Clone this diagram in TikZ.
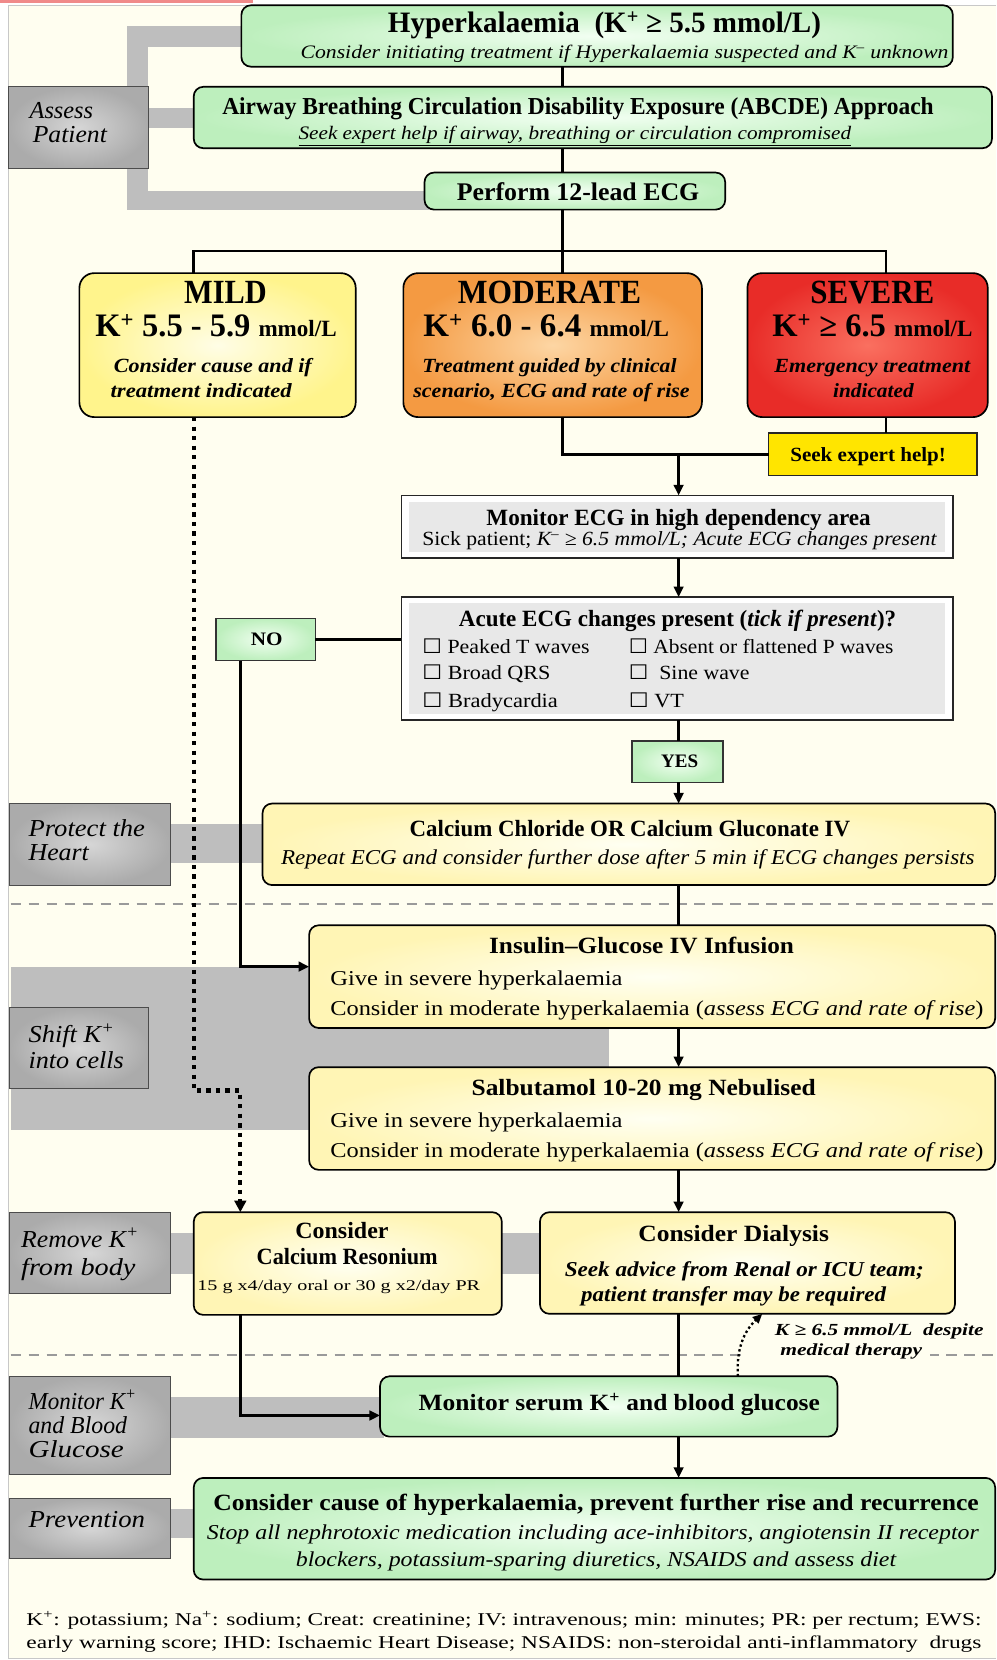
\documentclass[tikz,border=0pt]{standalone}
\usepackage{fontspec}
\setmainfont{Liberation Serif}
\newfontfamily\symf{DejaVu Sans}
\usepackage{graphicx}
\usetikzlibrary{arrows.meta}
\definecolor{bgc}{HTML}{FFFEF0}
\definecolor{grnin}{HTML}{F2FFF2}
\definecolor{grnout}{HTML}{BDEFBD}
\definecolor{yelin}{HTML}{FFFFF2}
\definecolor{yelout}{HTML}{FFF5B5}
\definecolor{mildin}{HTML}{FFFDE6}
\definecolor{mildout}{HTML}{FFF48C}
\definecolor{modin}{HTML}{FDD6A4}
\definecolor{modout}{HTML}{F49A42}
\definecolor{sevin}{HTML}{FA7060}
\definecolor{sevout}{HTML}{E82C28}
\definecolor{seekc}{HTML}{FFE500}
\definecolor{gin}{HTML}{D6D6D6}
\definecolor{gout}{HTML}{ABABAB}
\definecolor{bandc}{HTML}{BEBEBE}
\definecolor{innerg}{HTML}{E8E8E8}
\definecolor{dashc}{HTML}{9A9A9A}
\definecolor{redbar}{HTML}{F08A8A}
\definecolor{framec}{HTML}{C8C8C8}
\newcommand\fs[1]{\fontsize{#1}{#1}\selectfont}
\newcommand\fw[2]{\resizebox{#1pt}{\height}{#2}}
\newcommand\kp{K\textsuperscript{+}}
\newcommand\km{K\textsuperscript{–}}
\newcommand\cb{{\symf ☐}}
\newcommand\bx[6]{\node[#1, minimum width={(#5-#3)*1pt}, minimum height={(#6-#4)*1pt}] (#2) at ({(#3+#5)/2},{(#4+#6)/2}) {};}
\newcommand\tc[6]{\node[txt, font=#1, anchor=base] (#2) at (#3,#4) {\fw{#5}{#6}};}
\newcommand\tl[6]{\node[txt, font=#1, anchor=base west] (#2) at (#3,#4) {\fw{#5}{#6}};}
\begin{document}
\begin{tikzpicture}[x=1pt,y=-1pt,
  txt/.style={inner sep=0pt, outer sep=0pt, text=black},
  base/.style={inner sep=0pt, outer sep=0pt},
  rbox/.style={base, draw=black, line width=1.6pt, rounded corners=9pt},
  grnbox/.style={rbox, inner color=grnin, outer color=grnout},
  yelbox/.style={rbox, inner color=yelin, outer color=yelout},
  mildbox/.style={rbox, inner color=mildin, outer color=mildout, rounded corners=14pt},
  modbox/.style={rbox, inner color=modin, outer color=modout, rounded corners=14pt},
  sevbox/.style={rbox, inner color=sevin, outer color=sevout, rounded corners=14pt},
  seekbox/.style={base, draw=black!85, line width=1.4pt, fill=seekc},
  whbox/.style={base, draw=black!85, line width=1.4pt, fill=white},
  sqgrn/.style={base, draw=black!80, line width=1.2pt, inner color=grnin, outer color=grnout},
  gbox/.style={base, draw=black!70, line width=1pt, inner color=gin, outer color=gout},
  conn/.style={line width=2.6pt, draw=black},
  arr/.style={conn, -{Triangle[length=10pt,width=9pt]}},
  dots/.style={draw=black, line width=4pt, dash pattern=on 4pt off 5pt, -{Triangle[length=11pt,width=11pt]}},
  sdots/.style={draw=black, line width=2.2pt, dash pattern=on 2.2pt off 2.5pt, -{Triangle[length=9pt,width=8pt]}},
  dashl/.style={draw=dashc, line width=2.6pt, dash pattern=on 10pt off 7pt},
  band/.style={fill=bandc}]
\useasboundingbox (0,0) rectangle (941,1568);
\fill[white] (0,0) rectangle (941,1568);
\fill[bgc] (8,5) rectangle (941,1567);
\draw[framec, line width=1pt] (941,5) -- (8,5) -- (8,1567) -- (941,1567);
\fill[redbar] (0,0) rectangle (239,3);
% bands
\fill[band] (120,25) rectangle (232,44);
\fill[band] (120,25) rectangle (140,198);
\fill[band] (138,102) rectangle (187,121);
\fill[band] (120,180) rectangle (405,198);
\fill[band] (159,778) rectangle (252,815);
\fill[band] (10,913) rectangle (575,1067);
\fill[band] (159,1165) rectangle (187,1203);
\fill[band] (472,1165) rectangle (514,1203);
\fill[band] (159,1320) rectangle (363,1358);
\fill[band] (159,1425) rectangle (187,1453);
% dashed separators
\draw[dashl] (10,854) -- (941,854);
\draw[dashl] (10,1280) -- (941,1280);
\fill[bgc] (705,1273) rectangle (878,1287);
% boxes
\bx{gbox}{assess}{8}{82}{140}{159}
\bx{grnbox}{hyper}{228}{5}{900}{63}
\bx{grnbox}{abcde}{183}{82}{937}{140}
\bx{grnbox}{ecg}{401}{163}{685}{198}
\bx{mildbox}{mild}{75}{258}{336}{394}
\bx{modbox}{mod}{381}{258}{663}{394}
\bx{sevbox}{sev}{706}{258}{933}{394}
\bx{seekbox}{seek}{726}{409}{923}{449}
\bx{whbox}{monecg}{379}{468}{900}{527}
\bx{whbox}{acute}{379}{564}{900}{680}
\bx{sqgrn}{no}{204}{584}{298}{624}
\bx{sqgrn}{yes}{597}{700}{683}{739}
\bx{gbox}{protect}{9}{759}{161}{836}
\bx{yelbox}{calc}{248}{759}{940}{836}
\bx{yelbox}{ins}{292}{874}{940}{971}
\bx{gbox}{shift}{9}{952}{140}{1028}
\bx{yelbox}{salb}{292}{1008}{940}{1105}
\bx{gbox}{remove}{9}{1145}{161}{1222}
\bx{yelbox}{reson}{183}{1145}{474}{1242}
\bx{yelbox}{dial}{510}{1145}{902}{1241}
\bx{gbox}{monk}{9}{1300}{161}{1393}
\bx{grnbox}{monser}{359}{1300}{791}{1357}
\bx{gbox}{prevl}{9}{1415}{161}{1472}
\bx{grnbox}{prev}{183}{1396}{940}{1492}
\fill[innerg] (386,474) rectangle (893,521);
\fill[innerg] (386,570) rectangle (893,674);
% connectors
\coordinate (xa) at (531,0);
\coordinate (xb) at (641,0);
\coordinate (xc) at (837,0);
\coordinate (xd) at (183,0);
\coordinate (xe) at (227,0);
\coordinate (ybar) at (0,237);
\coordinate (yno) at (0,913);
\coordinate (yjog) at (0,1030);
\coordinate (ymon) at (0,1337);
\coordinate (dq1) at (697,0);
\coordinate (dq2) at (720,0);
\draw[conn] (hyper.south -| xa) -- (abcde.north -| xa);
\draw[conn] (abcde.south -| xa) -- (ecg.north -| xa);
\draw[conn] (ecg.south -| xa) -- (mod.north -| xa);
\draw[conn] (mild.north -| xd) |- (ybar -| xc) -- (sev.north -| xc);
\draw[conn] (mod.south -| xa) |- (seek.west);
\draw[conn] (sev.south -| xc) -- (seek.north -| xc);
\draw[arr] (seek.west -| xb) -- (monecg.north -| xb);
\draw[arr] (monecg.south -| xb) -- (acute.north -| xb);
\draw[line width=3.2pt] (no.east) -- (no.east -| acute.west);
\draw[arr] (no.south -| xe) |- (yno -| ins.west);
\draw[conn] (acute.south -| xb) -- (yes.north -| xb);
\draw[arr] (yes.south -| xb) -- (calc.north -| xb);
\draw[conn] (calc.south -| xb) -- (ins.north -| xb);
\draw[arr] (ins.south -| xb) -- (salb.north -| xb);
\draw[arr] (salb.south -| xb) -- (dial.north -| xb);
\draw[conn] (dial.south -| xb) -- (monser.north -| xb);
\draw[arr] (reson.south -| xe) |- (ymon -| monser.west);
\draw[arr] (monser.south -| xb) -- (prev.north -| xb);
\draw[dots] (mild.south -| xd) |- (yjog -| xe) -- (reson.north -| xe);
\draw[sdots] (monser.north -| dq1) to[bend left=25] (dial.south -| dq2);
% texts
\tc{\fs{28}\bfseries}{t1}{571}{31}{409}{Hyperkalaemia\ \ (\kp\ ≥ 5.5 mmol/L)}
\tc{\fs{18}\itshape}{t2}{590}{55}{612}{Consider initiating treatment if Hyperkalaemia suspected and \km\ unknown}
\tc{\fs{23}\bfseries}{t3}{546}{108}{672}{Airway Breathing Circulation Disability Exposure (ABCDE) Approach}
\tc{\fs{18}\itshape}{t4}{543}{132}{522}{\underline{Seek expert help if airway, breathing or circulation compromised}}
\tc{\fs{24}\bfseries}{t5}{546}{189}{229}{Perform 12-lead ECG}
\tl{\fs{23}\itshape}{l1}{28}{112}{60}{Assess}
\tl{\fs{23}\itshape}{l2}{31}{135}{70}{Patient}
\tc{\fs{32}\bfseries}{m1}{213}{287}{78}{MILD}
\tc{\fs{31}\bfseries}{m2}{204}{318}{228}{\kp\ 5.5 - 5.9 {\fs{22}mmol/L}}
\tc{\fs{19}\bfseries\itshape}{m3}{201}{352}{187}{Consider cause and if}
\tc{\fs{19}\bfseries\itshape}{m4}{190}{375}{171}{treatment indicated}
\tc{\fs{32}\bfseries}{o1}{519}{287}{173}{MODERATE}
\tc{\fs{31}\bfseries}{o2}{516}{318}{232}{\kp\ 6.0 - 6.4 {\fs{22}mmol/L}}
\tc{\fs{19}\bfseries\itshape}{o3}{519}{352}{240}{Treatment guided by clinical}
\tc{\fs{19}\bfseries\itshape}{o4}{521}{375}{261}{scenario, ECG and rate of rise}
\tc{\fs{32}\bfseries}{s1}{824}{287}{117}{SEVERE}
\tc{\fs{31}\bfseries}{s2}{824}{318}{189}{\kp\ ≥ 6.5 {\fs{22}mmol/L}}
\tc{\fs{19}\bfseries\itshape}{s3}{824}{352}{185}{Emergency treatment}
\tc{\fs{19}\bfseries\itshape}{s4}{825}{375}{76}{indicated}
\tc{\fs{19}\bfseries}{k1}{820}{436}{147}{Seek expert help!}
\tc{\fs{22}\bfseries}{e1}{641}{496}{363}{Monitor ECG in high dependency area}
\tc{\fs{19}}{e2}{642}{515}{486}{Sick patient; \textit{\km\ ≥ 6.5 mmol/L; Acute ECG changes present}}
\tc{\fs{22}\bfseries}{a1}{640}{592}{413}{Acute ECG changes present (\textit{tick if present})?}
\tl{\fs{19}}{a2}{399}{617}{158}{\cb\ Peaked T waves}
\tl{\fs{19}}{a3}{594}{617}{250}{\cb\ Absent or flattened P waves}
\tl{\fs{19}}{a4}{399}{642}{121}{\cb\ Broad QRS}
\tl{\fs{19}}{a5}{594}{642}{114}{\cb\ \ Sine wave}
\tl{\fs{19}}{a6}{399}{668}{128}{\cb\ Bradycardia}
\tl{\fs{19}}{a7}{594}{668}{52}{\cb\ VT}
\tc{\fs{18}\bfseries}{n1}{252}{610}{30}{NO}
\tc{\fs{18}\bfseries}{y1}{642}{725}{35}{YES}
\tc{\fs{22}\bfseries}{c1}{595}{790}{416}{Calcium Chloride OR Calcium Gluconate IV}
\tc{\fs{20}\itshape}{c2}{593}{817}{655}{Repeat ECG and consider further dose after 5 min if ECG changes persists}
\tl{\fs{23}\itshape}{l3}{27}{790}{110}{Protect the}
\tl{\fs{23}\itshape}{l4}{27}{813}{57}{Heart}
\tc{\fs{22}\bfseries}{i1}{606}{901}{288}{Insulin–Glucose IV Infusion}
\tl{\fs{20}}{i2}{312}{931}{276}{Give in severe hyperkalaemia}
\tl{\fs{20}}{i3}{312}{959}{617}{Consider in moderate hyperkalaemia (\textit{assess ECG and rate of rise})}
\tl{\fs{23}\itshape}{l5}{27}{985}{81}{Shift \kp}
\tl{\fs{23}\itshape}{l6}{27}{1009}{90}{into cells}
\tc{\fs{22}\bfseries}{b1}{608}{1035}{325}{Salbutamol 10-20 mg Nebulised}
\tl{\fs{20}}{b2}{312}{1065}{276}{Give in severe hyperkalaemia}
\tl{\fs{20}}{b3}{312}{1093}{617}{Consider in moderate hyperkalaemia (\textit{assess ECG and rate of rise})}
\tl{\fs{23}\itshape}{l7}{20}{1178}{111}{Remove \kp}
\tl{\fs{23}\itshape}{l8}{20}{1205}{108}{from body}
\tc{\fs{22}\bfseries}{r1}{323}{1170}{88}{Consider}
\tc{\fs{22}\bfseries}{r2}{328}{1194}{171}{Calcium Resonium}
\tc{\fs{14}}{r3}{320}{1219}{267}{15 g x4/day oral or 30 g x2/day PR}
\tc{\fs{22}\bfseries}{d1}{693}{1173}{180}{Consider Dialysis}
\tc{\fs{20}\bfseries\itshape}{d2}{703}{1206}{339}{Seek advice from Renal or ICU team;}
\tc{\fs{20}\bfseries\itshape}{d3}{693}{1229}{288}{patient transfer may be required}
\tl{\fs{16}\bfseries\itshape}{q1}{732}{1261}{197}{K ≥ 6.5 mmol/L\ \ despite}
\tl{\fs{16}\bfseries\itshape}{q2}{737}{1280}{134}{medical therapy}
\tc{\fs{22}\bfseries}{v1}{585}{1332}{379}{Monitor serum \kp\ and blood glucose}
\tl{\fs{23}\itshape}{l9}{27}{1331}{102}{Monitor \kp}
\tl{\fs{23}\itshape}{l10}{27}{1354}{93}{and Blood}
\tl{\fs{23}\itshape}{l11}{27}{1377}{90}{Glucose}
\tc{\fs{22}\bfseries}{p1}{563}{1427}{723}{Consider cause of hyperkalaemia, prevent further rise and recurrence}
\tc{\fs{20}\itshape}{p2}{560}{1454}{729}{Stop all nephrotoxic medication including ace-inhibitors, angiotensin II receptor}
\tc{\fs{20}\itshape}{p3}{563}{1480}{567}{blockers, potassium-sparing diuretics, NSAIDS and assess diet}
\tl{\fs{23}\itshape}{l12}{27}{1443}{110}{Prevention}
\tl{\fs{17}}{f1}{25}{1535}{902}{\kp: potassium; Na\textsuperscript{+}: sodium; Creat: creatinine; IV: intravenous; min: minutes; PR: per rectum; EWS:}
\tl{\fs{17}}{f2}{25}{1557}{902}{early warning score; IHD: Ischaemic Heart Disease; NSAIDS: non-steroidal anti-inflammatory\ \ drugs}
\end{tikzpicture}
\end{document}
